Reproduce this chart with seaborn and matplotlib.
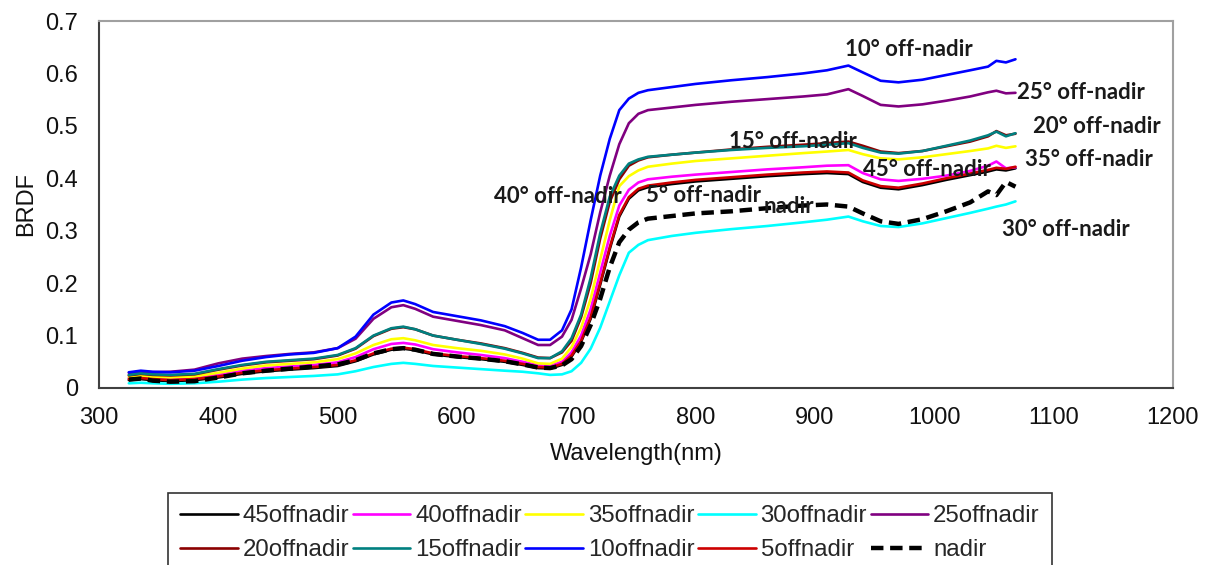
import numpy as np
import pandas as pd
import matplotlib
matplotlib.use("Agg")
import matplotlib.pyplot as plt
import seaborn as sns

wavelength = [325, 335, 345, 360, 380, 400, 420, 440, 460, 480, 500, 515, 530, 545, 555, 565, 580, 600, 620, 640,
              655, 668, 678, 688, 696, 704, 712, 720, 728, 736, 744, 752, 760, 780, 800, 830, 860, 890, 910, 928,
              940, 955, 970, 990, 1010, 1030, 1045, 1052, 1060, 1068]

off45 = [0.015, 0.017, 0.015, 0.013, 0.015, 0.020, 0.027, 0.032, 0.035, 0.038, 0.042, 0.051, 0.064, 0.073, 0.075, 0.072,
         0.064, 0.059, 0.055, 0.050, 0.044, 0.038, 0.037, 0.044, 0.060, 0.088, 0.132, 0.197, 0.265, 0.327, 0.361, 0.377,
         0.383, 0.389, 0.394, 0.399, 0.404, 0.408, 0.410, 0.408, 0.393, 0.382, 0.379, 0.387, 0.397, 0.406, 0.413, 0.417,
         0.415, 0.419]
off40 = [0.019, 0.021, 0.019, 0.017, 0.019, 0.025, 0.033, 0.038, 0.041, 0.044, 0.049, 0.059, 0.074, 0.084, 0.086, 0.083,
         0.074, 0.068, 0.063, 0.057, 0.050, 0.043, 0.042, 0.050, 0.068, 0.100, 0.150, 0.220, 0.290, 0.348, 0.378, 0.392,
         0.398, 0.403, 0.407, 0.412, 0.417, 0.421, 0.424, 0.425, 0.410, 0.398, 0.395, 0.399, 0.405, 0.414, 0.424, 0.432,
         0.419, 0.421]
off35 = [0.021, 0.023, 0.021, 0.020, 0.022, 0.029, 0.037, 0.043, 0.046, 0.049, 0.055, 0.066, 0.082, 0.093, 0.095, 0.091,
         0.082, 0.076, 0.071, 0.064, 0.056, 0.047, 0.046, 0.056, 0.078, 0.115, 0.170, 0.245, 0.320, 0.385, 0.404, 0.415,
         0.422, 0.428, 0.433, 0.438, 0.443, 0.448, 0.451, 0.454, 0.446, 0.438, 0.436, 0.440, 0.446, 0.452, 0.457, 0.462,
         0.458, 0.461]
off30 = [0.009, 0.010, 0.009, 0.008, 0.009, 0.012, 0.016, 0.019, 0.021, 0.023, 0.026, 0.032, 0.040, 0.046, 0.048, 0.046,
         0.042, 0.039, 0.036, 0.033, 0.031, 0.028, 0.025, 0.026, 0.032, 0.048, 0.075, 0.115, 0.165, 0.215, 0.258, 0.273,
         0.282, 0.290, 0.296, 0.303, 0.309, 0.316, 0.321, 0.327, 0.318, 0.309, 0.307, 0.314, 0.324, 0.334, 0.342, 0.346,
         0.350, 0.356]
off25 = [0.029, 0.031, 0.030, 0.031, 0.035, 0.047, 0.056, 0.061, 0.065, 0.068, 0.076, 0.094, 0.132, 0.154, 0.158, 0.151,
         0.136, 0.128, 0.120, 0.110, 0.095, 0.082, 0.082, 0.098, 0.130, 0.190, 0.255, 0.335, 0.405, 0.465, 0.505, 0.523,
         0.530, 0.535, 0.540, 0.546, 0.551, 0.556, 0.560, 0.570, 0.557, 0.540, 0.537, 0.541, 0.548, 0.556, 0.564, 0.567,
         0.562, 0.563]
off20 = [0.024, 0.027, 0.025, 0.024, 0.026, 0.035, 0.043, 0.049, 0.052, 0.055, 0.062, 0.075, 0.099, 0.113, 0.116, 0.112,
         0.100, 0.092, 0.085, 0.076, 0.067, 0.058, 0.057, 0.068, 0.090, 0.135, 0.200, 0.285, 0.355, 0.398, 0.424, 0.434,
         0.440, 0.445, 0.449, 0.455, 0.460, 0.464, 0.467, 0.470, 0.462, 0.451, 0.448, 0.452, 0.461, 0.470, 0.480, 0.490,
         0.482, 0.485]
off15 = [0.025, 0.028, 0.026, 0.025, 0.027, 0.036, 0.044, 0.050, 0.053, 0.056, 0.063, 0.076, 0.100, 0.114, 0.117, 0.112,
         0.100, 0.092, 0.084, 0.075, 0.066, 0.057, 0.057, 0.070, 0.095, 0.140, 0.210, 0.295, 0.365, 0.405, 0.428, 0.436,
         0.441, 0.445, 0.449, 0.454, 0.458, 0.461, 0.464, 0.467, 0.458, 0.449, 0.447, 0.452, 0.462, 0.472, 0.482, 0.489,
         0.480, 0.486]
off10 = [0.030, 0.033, 0.031, 0.030, 0.033, 0.042, 0.052, 0.059, 0.064, 0.067, 0.076, 0.098, 0.140, 0.163, 0.167, 0.160,
         0.145, 0.137, 0.129, 0.118, 0.105, 0.092, 0.092, 0.110, 0.150, 0.230, 0.320, 0.405, 0.475, 0.530, 0.552, 0.563,
         0.568, 0.574, 0.580, 0.587, 0.593, 0.600, 0.606, 0.615, 0.602, 0.586, 0.583, 0.588, 0.597, 0.606, 0.613, 0.624,
         0.621, 0.627]
off5 = [0.017, 0.019, 0.017, 0.015, 0.017, 0.022, 0.029, 0.034, 0.037, 0.040, 0.044, 0.053, 0.066, 0.075, 0.077, 0.074,
        0.066, 0.061, 0.057, 0.052, 0.046, 0.040, 0.039, 0.046, 0.062, 0.090, 0.135, 0.200, 0.268, 0.330, 0.364, 0.380,
        0.386, 0.392, 0.397, 0.402, 0.407, 0.411, 0.413, 0.411, 0.396, 0.385, 0.382, 0.390, 0.400, 0.409, 0.416, 0.420,
        0.418, 0.422]
nadir = [0.016, 0.018, 0.014, 0.012, 0.013, 0.020, 0.028, 0.033, 0.037, 0.041, 0.045, 0.053, 0.066, 0.074, 0.076, 0.073,
         0.065, 0.060, 0.056, 0.051, 0.045, 0.039, 0.038, 0.043, 0.055, 0.080, 0.120, 0.170, 0.230, 0.278, 0.302, 0.316,
         0.323, 0.328, 0.333, 0.337, 0.343, 0.348, 0.350, 0.346, 0.333, 0.318, 0.313, 0.322, 0.337, 0.354, 0.375, 0.368,
         0.393, 0.384]

series_names = ["45offnadir", "40offnadir", "35offnadir", "30offnadir", "25offnadir",
                "20offnadir", "15offnadir", "10offnadir", "5offnadir", "nadir"]
series_values = [off45, off40, off35, off30, off25, off20, off15, off10, off5, nadir]
series_colors = ["#000000", "#FF00FF", "#FFFF00", "#00FFFF", "#800080",
                 "#8B0000", "#008080", "#0000FF", "#CC0000", "#000000"]

annot_texts = ["10° off-nadir", "25° off-nadir", "20° off-nadir", "35° off-nadir", "30° off-nadir",
               "15° off-nadir", "45° off-nadir", "40° off-nadir", "5° off-nadir", "nadir"]
annot_x = [925, 1069, 1083, 1076, 1057, 828, 940, 631, 758, 857]
annot_y = [0.646, 0.564, 0.499, 0.436, 0.302, 0.470, 0.417, 0.365, 0.367, 0.346]

x_ticks = [300, 400, 500, 600, 700, 800, 900, 1000, 1100, 1200]
y_ticks = [0, 0.1, 0.2, 0.3, 0.4, 0.5, 0.6, 0.7]
y_tick_labels = ["0", "0.1", "0.2", "0.3", "0.4", "0.5", "0.6", "0.7"]

sns.set_style("white")
plt.rcParams["font.family"] = ["Liberation Sans", "DejaVu Sans"]

W, H = 1212, 565
fig = plt.figure(figsize=(W / 100, H / 100), dpi=100)
ax = fig.add_axes([99 / W, 1 - 388 / H, (1173 - 99) / W, (388 - 21) / H])

for name, vals, col in zip(series_names, series_values, series_colors):
    df = pd.DataFrame({"wl": wavelength, "v": vals})
    if name == "nadir":
        sns.lineplot(data=df, x="wl", y="v", ax=ax, color=col, lw=3.2, label=name,
                     estimator=None, sort=False)
        ax.lines[-1].set_dashes((2.8, 1.5))
    else:
        sns.lineplot(data=df, x="wl", y="v", ax=ax, color=col, lw=1.9, label=name,
                     estimator=None, sort=False)

for t, x, y in zip(annot_texts, annot_x, annot_y):
    ax.text(x, y, t, family=["Lato", "DejaVu Sans"], fontweight="bold", fontsize=16,
            color="#1a1a1a", ha="left", va="center")

ax.set_xlim(300, 1200)
ax.set_ylim(0, 0.7)
ax.set_xticks(x_ticks)
ax.set_yticks(y_ticks)
ax.set_yticklabels(y_tick_labels)
ax.tick_params(axis="both", length=0, labelsize=17, colors="#111111")
ax.tick_params(axis="y", pad=15)
ax.tick_params(axis="x", pad=14)
ax.set_xlabel("Wavelength(nm)", fontsize=17, color="#111111", labelpad=10)
ax.set_ylabel("BRDF", fontsize=17, color="#111111", labelpad=6)

for side, col in [("left", "#404040"), ("bottom", "#404040"), ("top", "#A0A0A0"), ("right", "#A0A0A0")]:
    ax.spines[side].set_visible(True)
    ax.spines[side].set_color(col)
    ax.spines[side].set_linewidth(1.5)

handles, labels = ax.get_legend_handles_labels()
ax.get_legend().remove()
ncol = 5
order = [r * ncol + c for c in range(ncol) for r in range(2)]
handles = [handles[i] for i in order]
labels = [labels[i] for i in order]
leg = fig.legend(handles, labels, ncol=ncol, loc="upper left", bbox_to_anchor=(168 / W, 1 - 493 / H),
                 frameon=True, fancybox=False, fontsize=17.3, handlelength=2.4, handletextpad=0.2,
                 columnspacing=0.15, labelspacing=0.5, borderpad=0.5, borderaxespad=0)
leg.get_frame().set_edgecolor("#000000")
leg.get_frame().set_linewidth(1.2)

fig.savefig("out.png", dpi=100)
